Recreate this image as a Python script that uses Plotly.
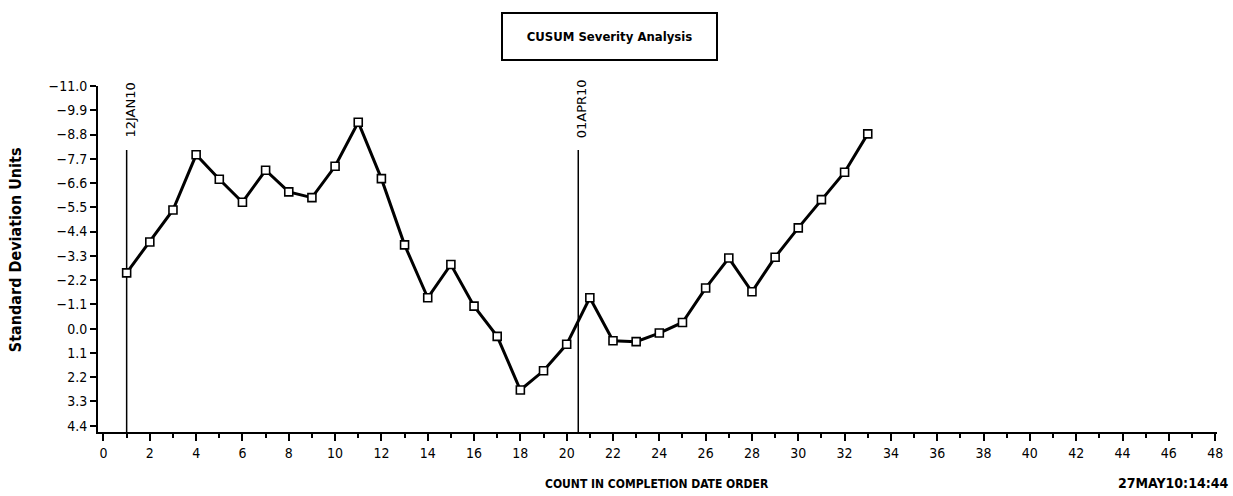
import plotly.graph_objects as go

# CUSUM values by completion-order count
counts = list(range(1, 34))
cusum = [-2.53, -3.93, -5.38, -7.88, -6.77, -5.73, -7.18, -6.20, -5.94, -7.36,
         -9.36, -6.80, -3.80, -1.40, -2.91, -1.02, 0.35, 2.78, 1.91, 0.71,
         -1.40, 0.55, 0.59, 0.20, -0.28, -1.84, -3.20, -1.67, -3.24, -4.57,
         -5.85, -7.09, -8.83]

# Reference markers (position on the count axis and their date labels)
ref_counts = [1, 20.5]
ref_labels = ["12JAN10", "01APR10"]
ref_top = -8.1

# Axis ticks
y_tickvals = [-11.0, -9.9, -8.8, -7.7, -6.6, -5.5, -4.4, -3.3, -2.2, -1.1,
              0.0, 1.1, 2.2, 3.3, 4.4]
y_ticktext = ["\u221211.0", "\u22129.9", "\u22128.8", "\u22127.7", "\u22126.6",
              "\u22125.5", "\u22124.4", "\u22123.3", "\u22122.2", "\u22121.1",
              "0.0", "1.1", "2.2", "3.3", "4.4"]
x_tickvals = list(range(0, 49, 2))

narrow = "DejaVu Sans Condensed, Liberation Sans Narrow, Arial Narrow, sans-serif"
plain = "DejaVu Sans, sans-serif"

fig = go.Figure()

fig.add_trace(go.Scatter(
    x=counts, y=cusum, mode="lines+markers",
    line=dict(color="black", width=3),
    marker=dict(symbol="square", size=8, color="white",
                line=dict(color="black", width=1.6)),
    hoverinfo="x+y", showlegend=False,
))

for xc, lab in zip(ref_counts, ref_labels):
    fig.add_shape(type="line", xref="x", yref="y", x0=xc, x1=xc,
                  y0=4.685, y1=ref_top, line=dict(color="black", width=1.5),
                  layer="below")
    fig.add_annotation(x=xc, y=ref_top, xref="x", yref="y", text=lab,
                       textangle=-90, showarrow=False, xanchor="left",
                       yanchor="bottom", xshift=-6, yshift=10,
                       font=dict(family=plain, size=13, color="black"))

# Boxed title
fig.add_annotation(x=0.4575, y=1.1445, xref="paper", yref="paper",
                   text="<b>CUSUM Severity Analysis</b>",
                   showarrow=False, font=dict(family=narrow, size=13, color="black"),
                   bordercolor="black", borderwidth=2, borderpad=2,
                   width=209, height=41, xanchor="center", yanchor="middle")

# Axis titles and time stamp
fig.add_annotation(x=-0.074, y=0.526, xref="paper", yref="paper",
                   text="<b>Standard Deviation Units</b>", textangle=-90,
                   showarrow=False, xanchor="center", yanchor="middle",
                   font=dict(family=narrow, size=16, color="black"))
fig.add_annotation(x=0.4996, y=-0.150, xref="paper", yref="paper",
                   text="<b>COUNT IN COMPLETION DATE ORDER</b>",
                   showarrow=False, xanchor="center", yanchor="middle",
                   font=dict(family=narrow, size=12, color="black"))
fig.add_annotation(x=1.012, y=-0.148, xref="paper", yref="paper",
                   text="<b>27MAY10:14:44</b>",
                   showarrow=False, xanchor="right", yanchor="middle",
                   font=dict(family=narrow, size=14, color="black"))

fig.update_layout(
    width=1233, height=496,
    margin=dict(l=98, r=16, t=86, b=64, autoexpand=False),
    paper_bgcolor="white", plot_bgcolor="white",
    xaxis=dict(range=[-0.237, 48.08], tickvals=x_tickvals, ticks="outside", ticklen=7,
               tickwidth=1.5, tickcolor="black", showline=True, linecolor="black",
               linewidth=2, showgrid=False, zeroline=False, automargin=False,
               tickfont=dict(family=narrow, size=14, color="black"),
               minor=dict(dtick=1, tick0=1, ticks="outside", ticklen=4, tickwidth=1.5,
                          tickcolor="black", showgrid=False)),
    yaxis=dict(range=[4.685, -11.0], tickvals=y_tickvals, ticktext=y_ticktext,
               ticks="outside", ticklen=6, tickwidth=1.5, tickcolor="black",
               showline=True, linecolor="black", linewidth=2, showgrid=False,
               zeroline=False, automargin=False,
               tickfont=dict(family=narrow, size=14, color="black")),
)

fig.write_html("out.html")
